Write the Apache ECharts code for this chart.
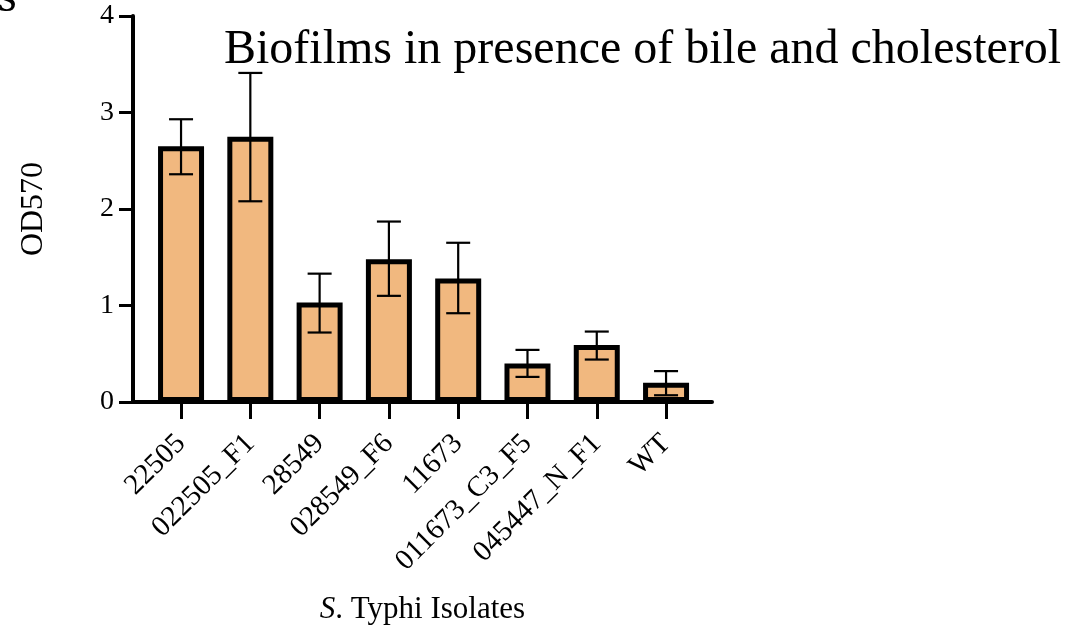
<!DOCTYPE html>
<html>
<head>
<meta charset="utf-8">
<script src="https://cdn.jsdelivr.net/npm/echarts@6/dist/echarts.min.js"></script>
<style>
html,body{margin:0;padding:0;background:#fff;}
#chart{width:1092px;height:630px;}
</style>
</head>
<body>
<div id="chart"></div>
<script>
const categories = ['22505','022505_F1','28549','028549_F6','11673','011673_C3_F5','045447_N_F1','WT'];
const means   = [2.65, 2.75, 1.03, 1.48, 1.28, 0.40, 0.59, 0.20];
const errLow  = [2.36, 2.08, 0.72, 1.10, 0.92, 0.26, 0.44, 0.07];
const errHigh = [2.93, 3.41, 1.33, 1.87, 1.65, 0.54, 0.73, 0.32];
const yMin = 0, yMax = 4, yStep = 1;
const titleText = 'Biofilms in presence of bile and cholesterol';
const yName = 'OD570';

const FONT = '"Liberation Serif", "Times New Roman", serif';
const chart = echarts.init(document.getElementById('chart'), null, {renderer:'canvas'});

const errData = categories.map((c, i) => [i, errLow[i], errHigh[i]]);

const option = {
  backgroundColor: '#ffffff',
  animation: false,
  title: {
    text: titleText,
    left: 224, top: 26, padding: 0,
    textStyle: {fontFamily: FONT, fontSize: 48, fontWeight: 'normal', color: '#000'}
  },
  graphic: [{
    type: 'text', left: -2, top: -26,
    style: {text: 's', font: '48px ' + FONT, fill: '#000'}
  }],
  grid: [
    {left: 133, right: 380, top: 16, bottom: 228},
    {left: 146.4, right: 391.3, top: 16, bottom: 228}
  ],
  xAxis: [
    {
      type: 'value', gridIndex: 0, min: 0, max: 1,
      axisLine: {show: true, lineStyle: {color: '#000', width: 4}},
      axisTick: {show: false}, axisLabel: {show: false}, splitLine: {show: false},
      name: '{i|S}. Typhi Isolates', nameLocation: 'middle', nameGap: 192,
      nameTextStyle: {
        fontFamily: FONT, fontSize: 31, color: '#000',
        rich: {i: {fontFamily: FONT, fontSize: 31, fontStyle: 'italic', color: '#000'}}
      }
    },
    {
      type: 'category', gridIndex: 1, data: categories,
      axisLine: {show: false},
      axisTick: {show: true, alignWithLabel: true, length: 17, lineStyle: {color: '#000', width: 3}},
      axisLabel: {rotate: 45, margin: 37, fontFamily: FONT, fontSize: 29, color: '#000', interval: 0},
      splitLine: {show: false}
    }
  ],
  yAxis: [
    {
      type: 'value', gridIndex: 0, min: yMin, max: yMax, interval: yStep,
      axisLine: {show: true, lineStyle: {color: '#000', width: 4}},
      axisTick: {show: true, length: 14, lineStyle: {color: '#000', width: 3}},
      axisLabel: {margin: 19, fontFamily: FONT, fontSize: 28, color: '#000'},
      splitLine: {show: false},
      name: yName, nameLocation: 'middle', nameGap: 83, nameRotate: 90,
      nameTextStyle: {fontFamily: FONT, fontSize: 32, color: '#000'}
    },
    {
      type: 'value', gridIndex: 1, min: yMin, max: yMax, interval: yStep, show: false
    }
  ],
  series: [
    {
      type: 'bar', xAxisIndex: 1, yAxisIndex: 1, data: means, barWidth: 46,
      itemStyle: {color: '#F1B87F', borderColor: '#000', borderWidth: 5},
      z: 2
    },
    {
      type: 'custom', xAxisIndex: 1, yAxisIndex: 1, data: errData, z: 5,
      renderItem: function (params, api) {
        const x = api.value(0);
        const lo = api.coord([x, api.value(1)]);
        const hi = api.coord([x, api.value(2)]);
        const hw = 12;
        const st = {stroke: '#000', lineWidth: 2.2, fill: null};
        return {
          type: 'group',
          children: [
            {type: 'line', shape: {x1: lo[0], y1: lo[1], x2: hi[0], y2: hi[1]}, style: st},
            {type: 'line', shape: {x1: lo[0]-hw, y1: lo[1], x2: lo[0]+hw, y2: lo[1]}, style: st},
            {type: 'line', shape: {x1: hi[0]-hw, y1: hi[1], x2: hi[0]+hw, y2: hi[1]}, style: st}
          ]
        };
      }
    }
  ]
};
chart.setOption(option);
</script>
</body>
</html>
